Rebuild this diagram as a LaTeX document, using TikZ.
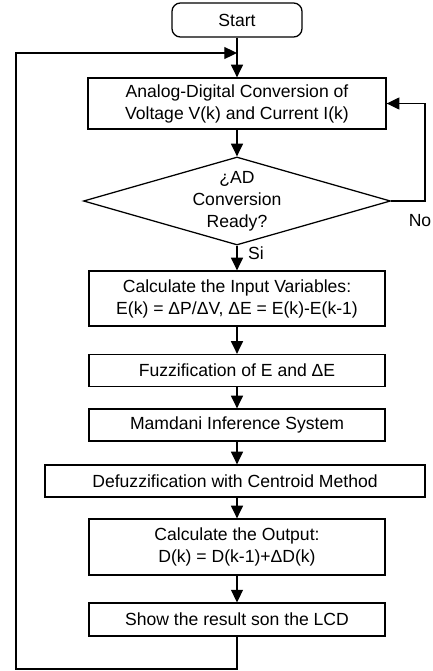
\documentclass[tikz,border=0pt]{standalone}
\usepackage{fontspec}
\setmainfont{Liberation Sans}
\usetikzlibrary{shapes.geometric, arrows.meta}

\begin{document}
\begin{tikzpicture}[x=0.025cm, y=-0.025cm]
\tikzstyle{every node}=[font=\fontsize{12.5}{15.6}\selectfont]
\tikzstyle{box}=[draw, line width=0.9pt, align=center, inner sep=2pt, minimum width=7.4cm]
\tikzstyle{flow}=[line width=0.9pt, -{Triangle[length=9pt, width=8.5pt]}]

\useasboundingbox (0, 0) rectangle (433, 671);

\node[box, rounded corners=6pt, minimum width=3.25cm, minimum height=0.85cm] (start) at (237, 20) {Start};
\node[box, minimum width=7.45cm, minimum height=1.275cm] (adc) at (237, 103.5) {Analog-Digital Conversion of\\Voltage V(k) and Current I(k)};
\node[box, diamond, aspect=3.5, inner sep=0pt, minimum width=7.675cm, minimum height=2.2cm] (ready) at (237, 201) {¿AD\\Conversion\\Ready?};
\node[box, minimum height=1.375cm] (calcin) at (237, 298.5) {Calculate the Input Variables:\\E(k) = ΔP/ΔV, ΔE = E(k)-E(k-1)};
\node[box, minimum height=0.8cm] (fuzz) at (237, 370.5) {Fuzzification of E and ΔE};
\node[box, minimum height=0.8cm] (mamdani) at (237, 425) {Mamdani Inference System};
\node[box, minimum width=9.5cm, minimum height=0.8cm] (defuzz) at (235, 481) {Defuzzification with Centroid Method};
\node[box, minimum height=1.4cm] (calcout) at (237, 547) {Calculate the Output:\\D(k) = D(k-1)+ΔD(k)};
\node[box, minimum height=0.82cm] (show) at (237, 619.5) {Show the result son the LCD};

\node (si) at (256, 253) {Si};
\node (no) at (420, 221) {No};

\coordinate (join) at (237, 53);
\coordinate (noR) at (425, 201);
\coordinate (loopL) at (16, 669);

\draw[flow] (start) -- (adc);
\draw[flow] (adc) -- (ready);
\draw[flow] (ready) -- (calcin);
\draw[flow] (calcin) -- (fuzz);
\draw[flow] (fuzz) -- (mamdani);
\draw[flow] (mamdani) -- (mamdani |- defuzz.north);
\draw[flow] (defuzz.south -| calcout) -- (calcout);
\draw[flow] (calcout) -- (show);

\draw[flow] (ready.east) -- (noR) |- (adc.east); % No
\draw[flow] (show.south) |- (loopL) |- (join); % back to top

\end{tikzpicture}
\end{document}
